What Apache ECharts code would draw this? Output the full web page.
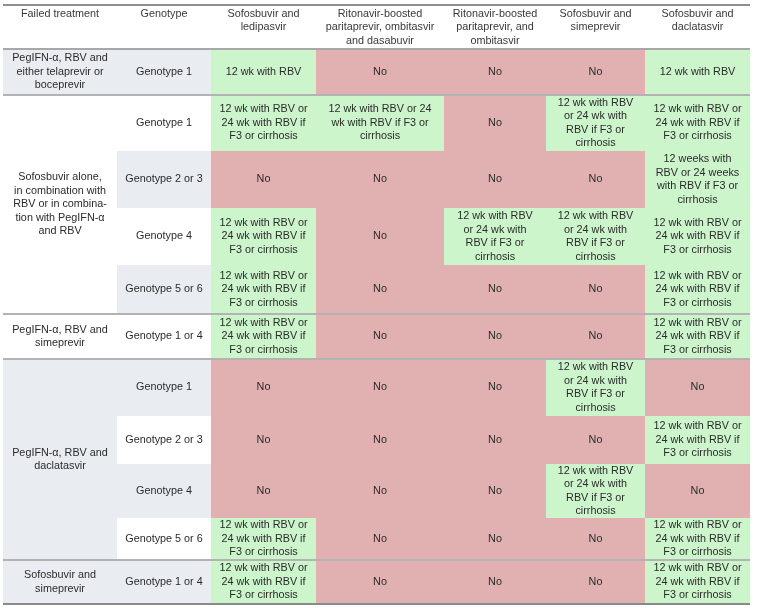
<!DOCTYPE html>
<html>
<head>
<meta charset="utf-8">
<script src="https://cdn.jsdelivr.net/npm/echarts@6/dist/echarts.min.js"></script>
<style>html,body{margin:0;padding:0;background:#fff}#c{width:757px;height:608px}</style>
</head>
<body>
<div id="c"></div>
<script>
// ---- data ----
const headers = ['Failed treatment', 'Genotype', 'Sofosbuvir and\nledipasvir',
  'Ritonavir-boosted\nparitaprevir, ombitasvir\nand dasabuvir',
  'Ritonavir-boosted\nparitaprevir, and\nombitasvir',
  'Sofosbuvir and\nsimeprevir', 'Sofosbuvir and\ndaclatasvir'];
const failedTreatments = ['PegIFN-α, RBV and\neither telaprevir or\nboceprevir',
  'Sofosbuvir alone,\nin combination with\nRBV or in combina-\ntion with PegIFN-α\nand RBV',
  'PegIFN-α, RBV and\nsimeprevir', 'PegIFN-α, RBV and\ndaclatasvir', 'Sofosbuvir and\nsimeprevir'];
const groupSizes = [1, 4, 1, 4, 1];
const genotypes = ['Genotype 1', 'Genotype 1', 'Genotype 2 or 3', 'Genotype 4', 'Genotype 5 or 6',
  'Genotype 1 or 4', 'Genotype 1', 'Genotype 2 or 3', 'Genotype 4', 'Genotype 5 or 6', 'Genotype 1 or 4'];
const A = '12 wk with RBV';
const B = '12 wk with RBV or\n24 wk with RBV if\nF3 or cirrhosis';
const C = '12 wk with RBV or 24\nwk with RBV if F3 or\ncirrhosis';
const D = '12 wk with RBV\nor 24 wk with\nRBV if F3 or\ncirrhosis';
const E = '12 weeks with\nRBV or 24 weeks\nwith RBV if F3 or\ncirrhosis';
const N = 'No';
const sofosbuvirLedipasvir = [A, B, N, B, B, B, N, N, N, B, B];
const ritonavirDasabuvir = [N, C, N, N, N, N, N, N, N, N, N];
const ritonavirOmbitasvir = [N, N, N, D, N, N, N, N, N, N, N];
const sofosbuvirSimeprevir = [N, D, N, D, N, N, D, N, D, N, N];
const sofosbuvirDaclatasvir = [A, B, E, B, B, B, N, B, N, B, B];

// ---- layout & style ----
const colEdges = [3, 117, 211, 316, 444, 546, 645, 750];
const rowEdges = [5, 49, 95, 151, 208, 265, 314, 359, 416, 464, 518, 560, 604];
const GREEN = '#ccf5cc', RED = '#e1b1b2', SHADE = '#e9ecf1', WHITE = '#ffffff';
const FONT = '"Liberation Sans", Arial, sans-serif';
const FS = 10.8;

const treatmentCols = [sofosbuvirLedipasvir, ritonavirDasabuvir, ritonavirOmbitasvir, sofosbuvirSimeprevir, sofosbuvirDaclatasvir];
const cells = [];
headers.forEach((h, c) => cells.push({ col: c, r0: 0, r1: 1, text: h, fill: WHITE, header: true }));
let start = 0;
failedTreatments.forEach((t, g) => {
  const r0 = start + 1, r1 = start + 1 + groupSizes[g];
  cells.push({ col: 0, r0, r1, text: t, fill: start % 2 === 0 ? SHADE : WHITE });
  start += groupSizes[g];
});
genotypes.forEach((gt, i) => cells.push({ col: 1, r0: i + 1, r1: i + 2, text: gt, fill: i % 2 === 0 ? SHADE : WHITE }));
treatmentCols.forEach((arr, k) => arr.forEach((v, i) =>
  cells.push({ col: k + 2, r0: i + 1, r1: i + 2, text: v, fill: v === 'No' ? RED : GREEN })));

const lines = [{ r: 0, color: '#8f8f8f', w: 2 }, { r: 1, color: '#a8a8a8', w: 2 }];
let acc = 1;
groupSizes.forEach((s, g) => {
  acc += s;
  lines.push({ r: acc, color: g === groupSizes.length - 1 ? '#8a8a8a' : '#b3b3b3', w: 2 });
});

const chart = echarts.init(document.getElementById('c'), null, { renderer: 'canvas' });
chart.setOption({
  animation: false,
  grid: { left: 0, right: 0, top: 0, bottom: 0 },
  xAxis: { type: 'value', min: 0, max: 757, show: false },
  yAxis: { type: 'value', min: 0, max: 608, inverse: true, show: false },
  series: [
    {
      type: 'custom',
      data: cells.map((c, i) => [i]),
      renderItem: function (params, api) {
        const c = cells[params.dataIndex];
        const p0 = api.coord([colEdges[c.col], rowEdges[c.r0]]);
        const p1 = api.coord([colEdges[c.col + 1], rowEdges[c.r1]]);
        const cx = (p0[0] + p1[0]) / 2;
        return {
          type: 'group',
          children: [
            { type: 'rect', shape: { x: p0[0], y: p0[1], width: p1[0] - p0[0], height: p1[1] - p0[1] },
              style: { fill: c.fill } },
            { type: 'text', style: {
                text: c.text, x: cx,
                y: c.header ? p0[1] + 2 : (p0[1] + p1[1]) / 2,
                align: 'center', verticalAlign: c.header ? 'top' : 'middle',
                fontSize: FS, fontFamily: FONT, lineHeight: 13.5,
                fill: c.header ? '#383838' : '#2b2b2b' } }
          ]
        };
      }
    },
    {
      type: 'custom',
      data: lines.map((l, i) => [i]),
      renderItem: function (params, api) {
        const l = lines[params.dataIndex];
        const a = api.coord([colEdges[0], rowEdges[l.r]]);
        const b = api.coord([colEdges[colEdges.length - 1], rowEdges[l.r]]);
        return { type: 'line', shape: { x1: a[0], y1: a[1], x2: b[0], y2: b[1] },
          style: { stroke: l.color, lineWidth: l.w } };
      }
    }
  ]
});
</script>
</body>
</html>
